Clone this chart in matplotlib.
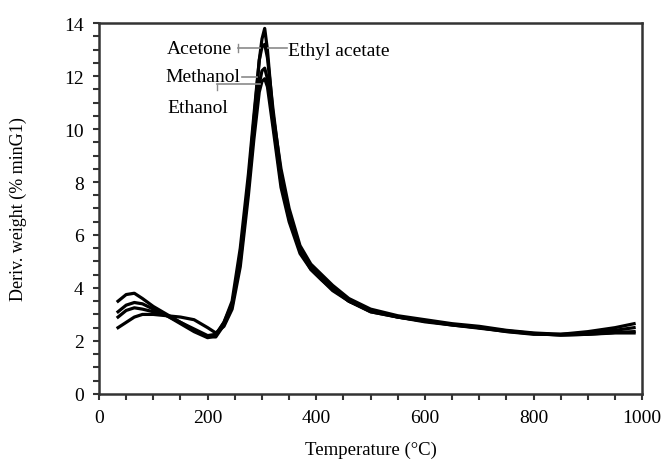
import numpy as np
import matplotlib.pyplot as plt
from matplotlib.ticker import MultipleLocator

plt.rcParams['font.family'] = ['Liberation Serif', 'DejaVu Serif']

# temperature grid (deg C) shared by the four curves
temp = [35, 50, 65, 80, 100, 125, 150, 175, 200, 215, 230, 245, 260, 275, 285,
        295, 300, 305, 310, 320, 335, 350, 370, 390, 410, 430, 460, 500, 550,
        600, 650, 700, 750, 800, 850, 900, 950, 985]

acetone = [3.5, 3.75, 3.8, 3.6, 3.3, 3.0, 2.7, 2.4, 2.15, 2.15, 2.6, 3.3, 5.2, 8.0, 10.3,
           12.6, 13.4, 13.8, 13.0, 10.6, 8.5, 7.0, 5.6, 4.9, 4.5, 4.1, 3.6, 3.2, 2.95,
           2.8, 2.65, 2.55, 2.4, 2.3, 2.25, 2.3, 2.4, 2.5]
ethyl_acetate = [3.1, 3.35, 3.45, 3.4, 3.2, 2.95, 2.65, 2.35, 2.12, 2.2, 2.7, 3.5, 5.5, 8.3, 10.5,
                 12.6, 13.1, 13.2, 12.7, 10.8, 8.3, 6.8, 5.5, 4.8, 4.4, 4.0, 3.5, 3.15, 2.9,
                 2.75, 2.6, 2.5, 2.35, 2.25, 2.25, 2.35, 2.5, 2.65]
methanol = [2.9, 3.15, 3.25, 3.2, 3.1, 2.95, 2.7, 2.45, 2.2, 2.25, 2.7, 3.4, 5.0, 7.8, 9.9,
            11.7, 12.2, 12.3, 11.9, 10.3, 8.0, 6.6, 5.4, 4.7, 4.3, 3.9, 3.5, 3.1, 2.9,
            2.75, 2.62, 2.5, 2.38, 2.28, 2.22, 2.25, 2.32, 2.35]
ethanol = [2.5, 2.7, 2.9, 3.0, 3.0, 2.95, 2.9, 2.8, 2.5, 2.3, 2.55, 3.2, 4.8, 7.5, 9.6,
           11.4, 11.8, 11.9, 11.6, 10.1, 7.8, 6.5, 5.3, 4.7, 4.3, 3.95, 3.5, 3.1, 2.9,
           2.72, 2.6, 2.48, 2.36, 2.27, 2.22, 2.25, 2.3, 2.3]

fig = plt.figure(figsize=(6.69, 4.64), dpi=100)
ax = fig.add_axes([0.148, 0.149, 0.812, 0.799])

for yy in (acetone, ethyl_acetate, methanol, ethanol):
    ax.plot(temp, yy, color='black', lw=2.3, solid_joinstyle='round')

# labels with grey leader lines
gr = '#8a8a8a'
ax.plot([255, 296], [13.06, 13.06], color=gr, lw=1.2)
ax.plot([255, 255], [12.9, 13.2], color=gr, lw=1.0)
ax.plot([311, 346], [13.06, 13.06], color=gr, lw=1.2)
ax.plot([264, 290], [11.96, 11.96], color=gr, lw=1.2)
ax.plot([217, 296], [11.70, 11.70], color=gr, lw=1.2)
ax.plot([217, 217], [11.70, 11.47], color=gr, lw=1.0)
ax.text(125, 13.06, 'Acetone', fontsize=14, va='center')
ax.text(348, 12.98, 'Ethyl acetate', fontsize=14, va='center')
ax.text(123, 12.0, 'Methanol', fontsize=14, va='center')
ax.text(125, 10.83, 'Ethanol', fontsize=14, va='center')

ax.set_xlim(0, 1000)
ax.set_ylim(0, 14)
ax.xaxis.set_major_locator(MultipleLocator(200))
ax.xaxis.set_minor_locator(MultipleLocator(50))
ax.yaxis.set_major_locator(MultipleLocator(2))
ax.yaxis.set_minor_locator(MultipleLocator(0.5))
ax.tick_params(which='both', direction='out', length=4, width=1.5, colors='#333333',
               labelcolor='black', labelsize=14, pad=7)
for s in ax.spines.values():
    s.set_linewidth(1.8)
    s.set_color('#333333')

ax.set_xlabel('Temperature (°C)', fontsize=13.5)
ax.set_ylabel('Deriv. weight (% minG1)', fontsize=13)
ax.xaxis.set_label_coords(0.5, -0.125)
ax.yaxis.set_label_coords(-0.133, 0.5)

fig.savefig('out.png', dpi=100)
